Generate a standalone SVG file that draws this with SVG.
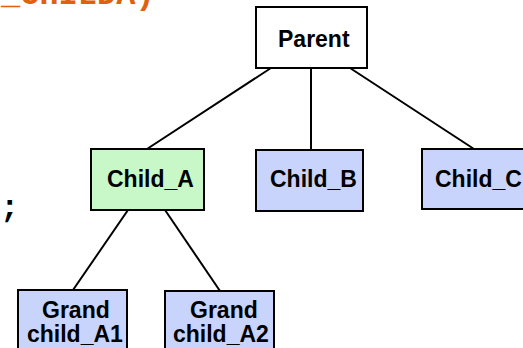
<svg xmlns="http://www.w3.org/2000/svg" width="523" height="348" viewBox="0 0 523 348">
  <style>
    .box { stroke: #000; stroke-width: 2; }
    .green { fill: #c8f8c8; }
    .blue { fill: #c8d4fc; }
    .white { fill: #fff; }
    .lbl { font-family: "Liberation Sans", Arial, sans-serif; font-weight: bold; font-size: 23px; fill: #000; }
    .code { font-family: "Liberation Mono", "Courier New", monospace; font-weight: bold; font-size: 32px; }
    .edge { stroke: #000; stroke-width: 2; fill: none; }
  </style>
  <rect width="523" height="348" fill="#fff"/>

  <!-- code fragments at left -->
  <text class="code" x="1" y="4" fill="#e06010">_CHILDA)</text>
  <text class="code" x="0" y="217" fill="#000">;</text>

  <g id="connectors">
    <line class="edge" x1="271" y1="68" x2="147" y2="149"/>
    <line class="edge" x1="311" y1="68" x2="311" y2="150"/>
    <line class="edge" x1="350" y1="68" x2="474" y2="149"/>
    <line class="edge" x1="128" y1="210" x2="73" y2="290"/>
    <line class="edge" x1="165" y1="210" x2="220" y2="291"/>
  </g>

  <g id="parent">
    <rect class="box white" x="256" y="7" width="111" height="61"/>
    <text class="lbl" x="278" y="47">Parent</text>
  </g>
  <g id="child_a">
    <rect class="box green" x="91" y="149" width="113" height="61"/>
    <text class="lbl" x="107" y="187">Child_A</text>
  </g>
  <g id="child_b">
    <rect class="box blue" x="256" y="150" width="107" height="61"/>
    <text class="lbl" x="270" y="187">Child_B</text>
  </g>
  <g id="child_c">
    <rect class="box blue" x="422" y="149" width="110" height="60"/>
    <text class="lbl" x="435" y="187">Child_C</text>
  </g>
  <g id="grandchild_a1">
    <rect class="box blue" x="18" y="290" width="109" height="70"/>
    <text class="lbl" x="42" y="318">Grand</text>
    <text class="lbl" x="27" y="342">child_A1</text>
  </g>
  <g id="grandchild_a2">
    <rect class="box blue" x="165" y="291" width="109" height="70"/>
    <text class="lbl" x="190" y="318">Grand</text>
    <text class="lbl" x="173" y="342">child_A2</text>
  </g>
</svg>
